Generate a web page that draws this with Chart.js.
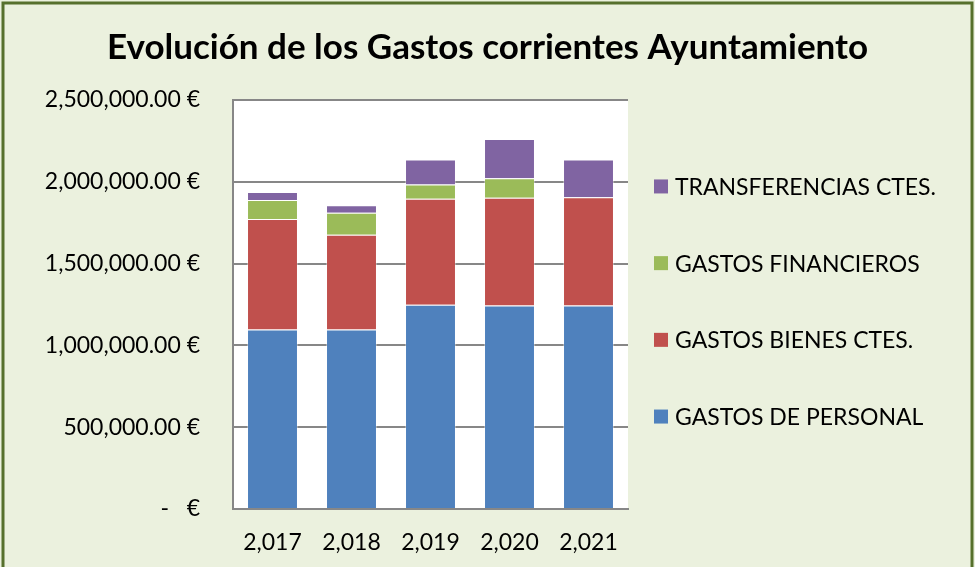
<!DOCTYPE html>
<html lang="es">
<head>
<meta charset="utf-8">
<title>Evolución de los Gastos corrientes Ayuntamiento</title>
<script src="https://cdn.jsdelivr.net/npm/chart.js@4.4.1/dist/chart.umd.min.js"></script>
<style>
  html, body { margin: 0; padding: 0; background: #EBF1DE; }
  #wrap { position: relative; width: 975px; height: 567px; }
</style>
</head>
<body>
<div id="wrap"><canvas id="chartGastos" width="975" height="567"></canvas></div>
<script>
/* ── DATA ── */
const chartTitle     = 'Evolución de los Gastos corrientes Ayuntamiento';
const years          = ['2,017', '2,018', '2,019', '2,020', '2,021'];
const gastosPersonal = [1097000, 1097000, 1248000, 1244000, 1244000];
const gastosBienes   = [675000, 579000, 648000, 658000, 661000];
const gastosFinanc   = [116000, 135000, 88000, 119000, 0];
const transferencias = [49000, 45000, 153000, 240000, 232000];
const yTicks         = [0, 500000, 1000000, 1500000, 2000000, 2500000];

/* ── THEME ── */
const COLORS = {
  personal: '#4F81BD',
  bienes:   '#C0504D',
  financ:   '#9BBB59',
  transf:   '#8064A2',
  grid:     '#878787',
  bg:       '#EBF1DE',
  frame:    '#56702C',
  text:     '#000000'
};
const FONT = 'Lato, "Open Sans", sans-serif';

Chart.defaults.font.family = FONT;
Chart.defaults.color = COLORS.text;

function euro(v) {
  if (v === 0) return '-   €';
  return v.toLocaleString('en-US', { minimumFractionDigits: 2, maximumFractionDigits: 2 }) + ' €';
}

/* ── PLUGINS: background + title, white plot area, right-side legend ── */
const backdrop = {
  id: 'backdrop',
  beforeDraw(chart) {
    const { ctx, chartArea: a, width, height } = chart;
    ctx.save();
    ctx.fillStyle = COLORS.bg;
    ctx.fillRect(0, 0, width, height);
    ctx.strokeStyle = COLORS.frame;
    ctx.lineWidth = 3;
    ctx.strokeRect(3, 3, width - 6, height + 20);
    ctx.fillStyle = '#ffffff';
    ctx.fillRect(a.left, a.top, a.right - a.left, a.bottom - a.top);

    ctx.fillStyle = COLORS.text;
    ctx.font = 'bold 35px ' + FONT;
    ctx.textAlign = 'center';
    ctx.textBaseline = 'middle';
    ctx.fillText(chartTitle, width / 2, 48);
    ctx.restore();
  }
};

const sideLegend = {
  id: 'sideLegend',
  afterDraw(chart) {
    const { ctx, chartArea: a } = chart;
    const items = chart.data.datasets.slice().reverse();
    const step  = 76.7;
    const mid   = (a.top + a.bottom) / 2 - 3;
    const y0    = mid - step * (items.length - 1) / 2;
    const boxX  = a.right + 26;
    ctx.save();
    ctx.font = '23px ' + FONT;
    ctx.textBaseline = 'middle';
    ctx.textAlign = 'left';
    items.forEach((ds, i) => {
      const y = y0 + i * step;
      ctx.fillStyle = ds.backgroundColor;
      ctx.fillRect(boxX, y - 7, 14, 14);
      ctx.fillStyle = COLORS.text;
      ctx.fillText(ds.label, boxX + 21, y + 1);
    });
    ctx.restore();
  }
};

/* ── CHART ── */
function dataset(label, data, color) {
  return {
    label,
    data,
    backgroundColor: color,
    borderColor: 'rgba(255,255,255,0.35)',
    borderWidth: 1,
    barPercentage: 0.645,
    categoryPercentage: 1
  };
}

new Chart(document.getElementById('chartGastos'), {
  type: 'bar',
  data: {
    labels: years,
    datasets: [
      dataset('GASTOS DE PERSONAL', gastosPersonal, COLORS.personal),
      dataset('GASTOS BIENES CTES.', gastosBienes, COLORS.bienes),
      dataset('GASTOS FINANCIEROS', gastosFinanc, COLORS.financ),
      dataset('TRANSFERENCIAS CTES.', transferencias, COLORS.transf)
    ]
  },
  options: {
    responsive: false,
    animation: false,
    layout: { padding: { left: 10, right: 347, top: 100, bottom: 0 } },
    plugins: {
      legend: { display: false },
      tooltip: { enabled: false },
      title: { display: false }
    },
    scales: {
      x: {
        stacked: true,
        grid: { display: false, drawTicks: false },
        border: { color: COLORS.grid, width: 2 },
        ticks: { font: { size: 23 }, padding: 20, color: COLORS.text },
        afterFit(scale) { scale.height = 58; }
      },
      y: {
        stacked: true,
        min: 0,
        max: 2500000,
        afterBuildTicks(scale) { scale.ticks = yTicks.map(v => ({ value: v })); },
        grid: { color: COLORS.grid, lineWidth: 2, drawTicks: false },
        border: { color: COLORS.grid, width: 2 },
        ticks: { font: { size: 23 }, padding: 33, color: COLORS.text, callback: v => euro(v) },
        afterFit(scale) { scale.width = 223; }
      }
    }
  },
  plugins: [backdrop, sideLegend]
});
</script>
</body>
</html>
